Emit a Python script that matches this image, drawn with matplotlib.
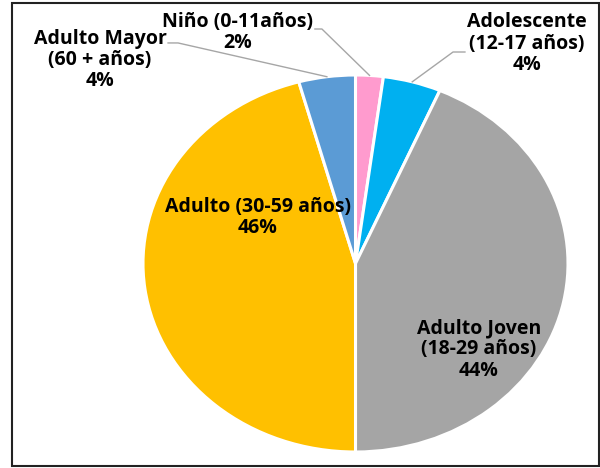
import matplotlib
matplotlib.use("Agg")
import matplotlib.pyplot as plt
import numpy as np
from matplotlib.patches import Rectangle

plt.rcParams["font.family"] = ["Open Sans", "DejaVu Sans"]

# data (clockwise from 12 o'clock)
groups = ["Niño (0-11años)", "Adolescente\n(12-17 años)", "Adulto Joven\n(18-29 años)",
          "Adulto (30-59 años)", "Adulto Mayor\n(60 + años)"]
shares = [2.1, 4.4, 43.5, 45.7, 4.3]
colors = ["#FF9BCE", "#00B0F0", "#A5A5A5", "#FFC000", "#5B9BD5"]

# label block centres (data coords of the unit pie, axes stretched to an ellipse)
label_pos = [(-0.553, 1.225), (0.807, 1.167), (0.581, -0.456), (-0.459, 0.244), (-1.202, 1.080)]
# leader line start + corner for the small slices (None = label sits inside)
leader = [((-0.191, 1.244), (-0.158, 1.244)),
          ((0.515, 1.122), (0.459, 1.122)),
          None,
          None,
          ((-0.882, 1.170), (-0.835, 1.170))]

fig = plt.figure(figsize=(6, 4.68), dpi=100)
ax = fig.add_axes([143/600, 16/468, 425/600, 377/468])

wedges, _ = ax.pie(shares, colors=colors, startangle=90, counterclock=False,
                   wedgeprops=dict(edgecolor="white", linewidth=2.2), radius=1)
ax.set_aspect("auto")
ax.set_xlim(-1, 1)
ax.set_ylim(-1, 1)
ax.axis("off")

for i, w in enumerate(wedges):
    txt = groups[i] + "\n" + "%.0f%%" % shares[i]
    ax.text(label_pos[i][0], label_pos[i][1], txt, ha="center", va="center",
            fontsize=14, fontweight="bold", color="black", linespacing=1.08,
            clip_on=False)
    if leader[i] is not None:
        mid = np.deg2rad((w.theta1 + w.theta2) / 2)
        (x0, y0), (x1, y1) = leader[i]
        ax.plot([x0, x1, np.cos(mid)], [y0, y1, np.sin(mid)], color="#A6A6A6",
                lw=1, clip_on=False)

fig.patches.append(Rectangle((12/600, 2/468), 587/600, 463/468, transform=fig.transFigure,
                             fill=False, edgecolor="#222222", linewidth=1.5))

fig.savefig("out.png", dpi=100)
